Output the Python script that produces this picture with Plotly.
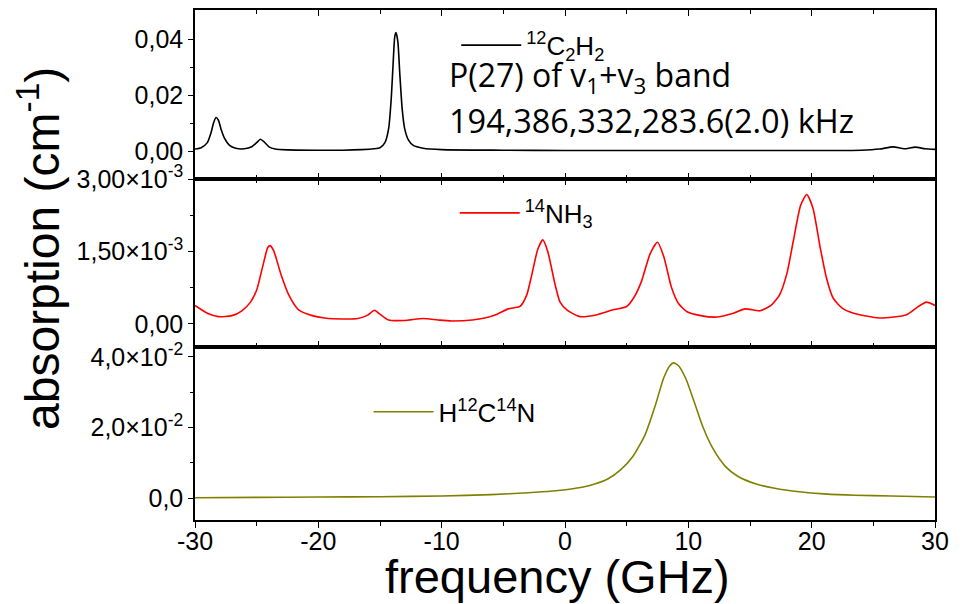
import plotly.graph_objects as go

# ---------------- data ----------------
freq_c2h2 = [-30.0, -29.5, -29.0, -28.7, -28.5, -28.3, -28.1, -27.9, -27.6, -27.2, -26.7, -26.0,
             -25.4, -25.0, -24.7, -24.4, -24.0, -23.5, -22.5, -20.0, -18.0, -16.5, -15.5, -15.0,
             -14.6, -14.3, -14.1, -13.95, -13.8, -13.7, -13.55, -13.4, -13.2, -13.0, -12.7, -12.3,
             -11.5, -10.0, -5.0, 0.0, 10.0, 20.0, 24.0, 25.5, 26.6, 27.5, 28.4, 29.2, 30.0]
abs_c2h2 = [0.0007, 0.0012, 0.0030, 0.0065, 0.0100, 0.0120, 0.0110, 0.0080, 0.0045, 0.0020, 0.0010, 0.0008,
            0.0015, 0.0030, 0.0042, 0.0033, 0.0015, 0.0007, 0.0004, 0.0003, 0.0003, 0.0005, 0.0008, 0.0012,
            0.0030, 0.0080, 0.0180, 0.0300, 0.0410, 0.0423, 0.0390, 0.0280, 0.0150, 0.0080, 0.0040, 0.0020,
            0.0010, 0.0005, 0.0003, 0.0002, 0.0002, 0.0002, 0.0003, 0.0007, 0.0015, 0.0008, 0.0014, 0.0008, 0.0006]

freq_nh3 = [-30.0, -29.0, -28.1, -27.0, -26.2, -25.5, -25.0, -24.5, -24.1, -23.9, -23.6, -23.0, -22.4,
            -21.6, -20.5, -19.5, -18.0, -16.8, -16.0, -15.46, -15.0, -14.3, -13.0, -11.5, -10.3, -9.2,
            -7.5, -6.5, -5.5, -4.6, -3.65, -3.1, -2.7, -2.2, -1.8, -1.4, -0.8, -0.4, 0.2, 1.2, 2.6, 3.9,
            5.0, 5.6, 6.2, 6.9, 7.5, 8.0, 8.65, 9.2, 9.9, 11.0, 12.3, 13.65, 14.6, 15.8, 16.7, 17.4, 18.0,
            18.5, 19.1, 19.6, 20.1, 20.7, 21.2, 21.75, 22.5, 23.4, 25.5, 27.7, 28.65, 29.3, 30.0]
abs_nh3_e3 = [0.38, 0.22, 0.15, 0.17, 0.27, 0.45, 0.70, 1.20, 1.58, 1.62, 1.50, 1.00, 0.60,
              0.29, 0.17, 0.12, 0.10, 0.11, 0.18, 0.28, 0.20, 0.08, 0.07, 0.11, 0.08, 0.06,
              0.08, 0.12, 0.20, 0.31, 0.36, 0.60, 1.01, 1.55, 1.74, 1.50, 0.81, 0.45, 0.28, 0.15, 0.19, 0.29,
              0.36, 0.55, 0.88, 1.45, 1.69, 1.40, 0.74, 0.42, 0.25, 0.17, 0.14, 0.22, 0.31, 0.27, 0.38, 0.60, 1.05,
              1.70, 2.45, 2.68, 2.40, 1.57, 0.95, 0.53, 0.32, 0.22, 0.12, 0.19, 0.36, 0.45, 0.38]
abs_nh3 = [v * 1e-3 for v in abs_nh3_e3]

freq_hcn = [-30, -25, -20, -15, -10, -6, -3, -1, 0.5, 2, 3.5, 4.5, 5.5, 6.5, 7.3, 8.0, 8.5, 8.8, 9.2,
            9.8, 10.5, 11.2, 12, 13, 14, 15.5, 17, 19, 21, 23.5, 26.5, 30]
abs_hcn = [0.0001, 0.0002, 0.0003, 0.0004, 0.0006, 0.0010, 0.0015, 0.0020, 0.0026, 0.0036, 0.0055,
           0.0080, 0.0118, 0.0180, 0.0260, 0.0340, 0.0375, 0.0383, 0.0375, 0.0338, 0.0270, 0.0200,
           0.0140, 0.0090, 0.0062, 0.0040, 0.0028, 0.0018, 0.0012, 0.0008, 0.0006, 0.0003]

x_tickvals = [-30, -20, -10, 0, 10, 20, 30]
x_ticktext = ["-30", "-20", "-10", "0", "10", "20", "30"]
x_minor = [-25, -15, -5, 5, 15, 25]

y1_tickvals = [0.0, 0.02, 0.04]
y1_ticktext = ["0,00", "0,02", "0,04"]
y1_minor = [0.01, 0.03]

y2_tickvals = [0.0, 1.5e-3, 3.0e-3]
y2_ticktext = ["0,00", "1,50×10<sup>-3</sup>", "3,00×10<sup>-3</sup>"]
y2_minor = [0.75e-3, 2.25e-3]

y3_tickvals = [0.0, 0.02, 0.04]
y3_ticktext = ["0,0", "2,0×10<sup>-2</sup>", "4,0×10<sup>-2</sup>"]
y3_minor = [0.01, 0.03]

name_c2h2 = "<sup>12</sup>C<sub>2</sub>H<sub>2</sub>"
name_nh3 = "<sup>14</sup>NH<sub>3</sub>"
name_hcn = "H<sup>12</sup>C<sup>14</sup>N"

# ---------------- figure ----------------
FONT = "Liberation Sans, Arial, sans-serif"
fig = go.Figure()
fig.add_trace(go.Scatter(x=freq_c2h2, y=abs_c2h2, xaxis="x", yaxis="y", mode="lines", name=name_c2h2,
                         line=dict(color="black", width=1.6, shape="spline", smoothing=0.6), legend="legend"))
fig.add_trace(go.Scatter(x=freq_nh3, y=abs_nh3, xaxis="x2", yaxis="y2", mode="lines", name=name_nh3,
                         line=dict(color="#ff0000", width=1.6, shape="spline", smoothing=0.6), legend="legend2"))
fig.add_trace(go.Scatter(x=freq_hcn, y=abs_hcn, xaxis="x3", yaxis="y3", mode="lines", name=name_hcn,
                         line=dict(color="#808000", width=1.6, shape="spline", smoothing=0.6), legend="legend3"))

d_top = [0.6686, 1.0]
d_mid = [0.3392, 0.6686]
d_bot = [0.0, 0.3392]

def xax(anchor, ticks, mirror, labels):
    return dict(domain=[0, 1], anchor=anchor, range=[-30, 30], showgrid=False, zeroline=False,
                showline=True, linecolor="black", linewidth=1.5, mirror=mirror,
                tickmode="array", tickvals=x_tickvals, ticktext=x_ticktext, ticks=ticks, ticklen=6,
                tickwidth=1.2, tickcolor="black", showticklabels=labels, ticklabelstandoff=-8,
                tickfont=dict(size=25, family=FONT, color="black"),
                minor=dict(tickvals=x_minor, ticks=ticks, ticklen=4, tickwidth=1.2, tickcolor="black"))

def yax(anchor, domain, rng, tv, tt, mv):
    return dict(domain=domain, anchor=anchor, range=rng, showgrid=False, zeroline=False,
                showline=True, linecolor="black", linewidth=1.5, mirror=True,
                tickmode="array", tickvals=tv, ticktext=tt, ticks="outside", ticklen=5, tickwidth=1.2,
                tickcolor="black", tickfont=dict(size=25, family=FONT, color="black"),
                minor=dict(tickvals=mv, ticks="outside", ticklen=3, tickwidth=1.2, tickcolor="black"))

def yright(over, anchor, rng, tv, mv):
    return dict(overlaying=over, anchor=anchor, side="right", range=rng, showgrid=False, zeroline=False,
                showline=False, tickmode="array", tickvals=tv, ticks="inside", ticklen=5, tickwidth=1.2,
                tickcolor="black", showticklabels=False,
                minor=dict(tickvals=mv, ticks="inside", ticklen=3, tickwidth=1.2, tickcolor="black"))

r1 = [-0.01, 0.0504]
r2 = [-0.48e-3, 3.0e-3]
r3 = [-0.0062, 0.0428]

layout = dict(
    width=966, height=604, autosize=False,
    margin=dict(l=195, r=31, t=10, b=84, autoexpand=False),
    paper_bgcolor="white", plot_bgcolor="white",
    font=dict(family=FONT, color="black"),
    xaxis=xax("y", "inside", "ticks", False),
    xaxis2=xax("y2", "inside", "ticks", False),
    xaxis3=xax("y3", "outside", True, True),
    xaxis4=dict(overlaying="x3", anchor="y3", side="top", range=[-30, 30], showgrid=False, zeroline=False,
                showline=False, tickmode="array", tickvals=x_tickvals, ticks="inside", ticklen=6, tickwidth=1.2,
                tickcolor="black", showticklabels=False,
                minor=dict(tickvals=x_minor, ticks="inside", ticklen=4, tickwidth=1.2, tickcolor="black")),
    yaxis=yax("x", d_top, r1, y1_tickvals, y1_ticktext, y1_minor),
    yaxis2=yax("x2", d_mid, r2, y2_tickvals, y2_ticktext, y2_minor),
    yaxis3=yax("x3", d_bot, r3, y3_tickvals, y3_ticktext, y3_minor),
    yaxis4=yright("y", "x", r1, y1_tickvals, y1_minor),
    yaxis5=yright("y2", "x2", r2, y2_tickvals, y2_minor),
    yaxis6=yright("y3", "x3", r3, y3_tickvals, y3_minor),
    legend=dict(x=0.353, y=0.931, xanchor="left", yanchor="middle", bgcolor="rgba(0,0,0,0)",
                font=dict(size=26, family=FONT, color="black"), itemwidth=60),
    legend2=dict(x=0.351, y=0.602, xanchor="left", yanchor="middle", bgcolor="rgba(0,0,0,0)",
                 font=dict(size=26, family=FONT, color="black"), itemwidth=60),
    legend3=dict(x=0.2345, y=0.212, xanchor="left", yanchor="middle", bgcolor="rgba(0,0,0,0)",
                 font=dict(size=26, family=FONT, color="black"), itemwidth=60),
    showlegend=True,
    annotations=[
        dict(text="P(27) of v<sub>1</sub>+v<sub>3</sub> band", xref="paper", yref="paper",
             x=0.340, y=0.8686, xanchor="left", yanchor="middle", showarrow=False,
             font=dict(size=32, family="Open Sans, sans-serif", color="black")),
        dict(text="194,386,332,283.6(2.0) kHz", xref="paper", yref="paper",
             x=0.340, y=0.784, xanchor="left", yanchor="middle", showarrow=False,
             font=dict(size=32.5, family="Open Sans, sans-serif", color="black")),
        dict(text="absorption (cm<sup>-1</sup>)", xref="paper", yref="paper",
             x=(39 - 195) / 740, y=(520 - 249) / 510, xanchor="center", yanchor="middle",
             textangle=-90, showarrow=False, font=dict(size=48, family=FONT, color="black")),
        dict(text="frequency (GHz)", xref="paper", yref="paper",
             x=(557 - 195) / 740, y=(520 - 576) / 510, xanchor="center", yanchor="middle",
             showarrow=False, font=dict(size=47, family=FONT, color="black")),
    ],
)
fig.update_layout(**layout)
fig.write_html("out.html")
